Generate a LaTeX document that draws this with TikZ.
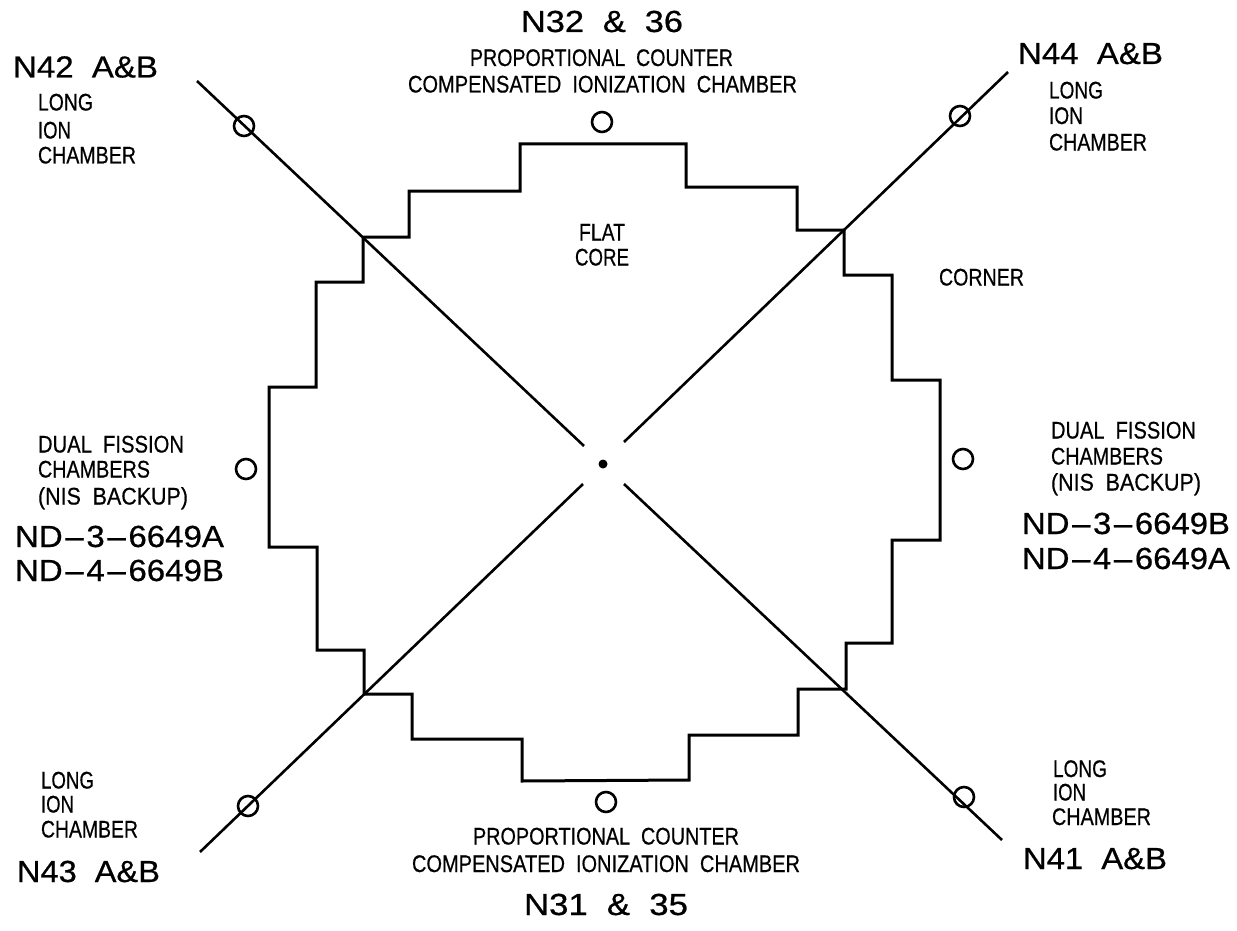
\documentclass[tikz,border=0pt]{standalone}
\usepackage{graphicx}
\usepackage{fontspec}
\setmainfont{Liberation Sans}
\newfontfamily\labfont[FakeBold=0.6]{Liberation Sans}
\newcommand{\gap}{\hspace{0.55em}}
\newcommand{\dash}{\hspace{0.08em}–\hspace{0.08em}}
\newcommand{\smalltxt}[5]{\node[lab,font=\labfont\fontsize{24}{26}\selectfont] (#1) at (#2,#3+8.5) {\resizebox{#4pt}{\height}{#5}};}
\newcommand{\bigtxt}[5]{\node[lab,font=\labfont\fontsize{30.5}{32}\selectfont] (#1) at (#2,#3+11) {\resizebox{#4pt}{\height}{#5}};}
\tikzset{
  lab/.style={anchor=base west,inner sep=0pt,outer sep=0pt,text=black},
  outline/.style={draw=black,line width=3pt,line join=miter},
  diag/.style={draw=black,line width=2.6pt},
  detector/.style={circle,draw=black,line width=2.6pt,fill=none,minimum size=20pt,inner sep=0pt}
}
\begin{document}
\begin{tikzpicture}[x=1pt,y=-1pt]
\useasboundingbox (0,0) rectangle (1237,931);
% core boundary corners
\coordinate (cNW) at (363,237);
\coordinate (cNE) at (844,230);
\coordinate (cSW) at (364,694);
\coordinate (cSE) at (846,689);
\draw[outline] (cNW) -- (409,237) -- (409,191) -- (520,191) -- (520,144) -- (686,144) -- (686,187) -- (797,187) -- (797,230) -- (cNE)
 -- (844,275) -- (892,275) -- (892,380) -- (940,380) -- (940,540) -- (892,540) -- (892,643) -- (846,643) -- (cSE)
 -- (798,689) -- (798,735) -- (689,735) -- (689,780) -- (522,781) -- (522,739) -- (412,739) -- (412,694) -- (cSW)
 -- (364,650) -- (317,650) -- (317,547) -- (269,547) -- (269,387) -- (316,387) -- (316,282) -- (363,282) -- cycle;
% diagonals
\coordinate (endNW) at (197,81);
\coordinate (inNW) at (584,446);
\coordinate (endNE) at (1008,72);
\coordinate (inNE) at (624,442);
\coordinate (endSW) at (200,852);
\coordinate (inSW) at (583,484);
\coordinate (endSE) at (1002,840);
\coordinate (inSE) at (624,484);
\draw[diag] (endNW) -- (inNW);
\draw[diag] (endNE) -- (inNE);
\draw[diag] (endSW) -- (inSW);
\draw[diag] (endSE) -- (inSE);
% detectors
\node[detector] (d1) at (244,126) {};
\node[detector] (d2) at (602,122) {};
\node[detector] (d3) at (960,116) {};
\node[detector] (d4) at (246,469) {};
\node[detector] (d5) at (963,459) {};
\node[detector] (d6) at (248,806) {};
\node[detector] (d7) at (606,802) {};
\node[detector] (d8) at (964,797) {};
\node[circle,fill=black,minimum size=9pt,inner sep=0pt] (centre) at (603,464) {};
% top
\bigtxt{n32}{521}{21}{162}{N32\gap\&\gap 36}
\smalltxt{t1}{470}{57.5}{263}{PROPORTIONAL\gap COUNTER}
\smalltxt{t2}{408}{84}{389}{COMPENSATED\gap IONIZATION\gap CHAMBER}
% NW
\bigtxt{n42}{13}{66.5}{145}{N42\gap A\&B}
\smalltxt{nw1}{38}{102}{55}{LONG}
\smalltxt{nw2}{38}{130}{33}{ION}
\smalltxt{nw3}{38}{155}{98}{CHAMBER}
% NE
\bigtxt{n44}{1018}{53}{145}{N44\gap A\&B}
\smalltxt{ne1}{1049}{90}{54}{LONG}
\smalltxt{ne2}{1049}{115.5}{34}{ION}
\smalltxt{ne3}{1049}{142}{98}{CHAMBER}
% centre labels
\smalltxt{f1}{579}{232}{46}{FLAT}
\smalltxt{f2}{575}{257}{54}{CORE}
\smalltxt{corner}{939}{277}{85}{CORNER}
% W
\smalltxt{w1}{38}{444}{146}{DUAL\gap FISSION}
\smalltxt{w2}{38}{469}{112}{CHAMBERS}
\smalltxt{w3}{38}{496}{150}{(NIS\gap BACKUP)}
\bigtxt{w4}{15}{536}{209}{ND\dash 3\dash 6649A}
\bigtxt{w5}{15}{570}{209}{ND\dash 4\dash 6649B}
% E
\smalltxt{e1}{1051}{430}{145}{DUAL\gap FISSION}
\smalltxt{e2}{1051}{456}{112}{CHAMBERS}
\smalltxt{e3}{1051}{482}{150}{(NIS\gap BACKUP)}
\bigtxt{e4}{1022}{523}{208}{ND\dash 3\dash 6649B}
\bigtxt{e5}{1022}{558}{208}{ND\dash 4\dash 6649A}
% SW
\smalltxt{sw1}{41}{780}{53}{LONG}
\smalltxt{sw2}{41}{804}{33}{ION}
\smalltxt{sw3}{41}{829}{97}{CHAMBER}
\bigtxt{n43}{17}{871}{143}{N43\gap A\&B}
% S
\smalltxt{b1}{473}{836}{266}{PROPORTIONAL\gap COUNTER}
\smalltxt{b2}{412}{863.5}{388}{COMPENSATED\gap IONIZATION\gap CHAMBER}
\bigtxt{n31}{524}{904}{164}{N31\gap\&\gap 35}
% SE
\smalltxt{se1}{1053}{768.5}{54}{LONG}
\smalltxt{se2}{1053}{792}{33}{ION}
\smalltxt{se3}{1052}{816.5}{99}{CHAMBER}
\bigtxt{n41}{1023}{858}{144}{N41\gap A\&B}
\end{tikzpicture}
\end{document}
